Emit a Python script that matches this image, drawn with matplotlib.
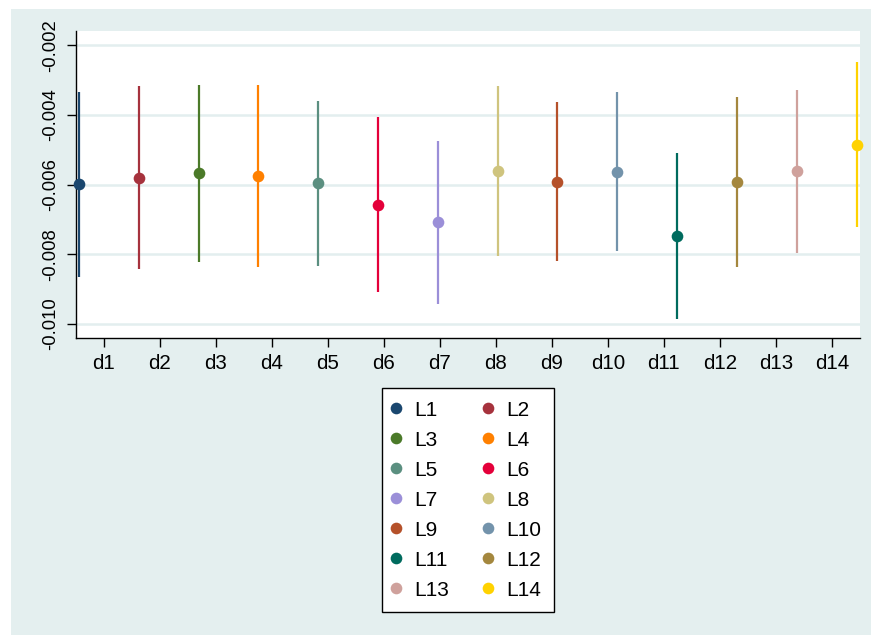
import numpy as np
import matplotlib.pyplot as plt
from matplotlib.patches import Rectangle
from matplotlib.lines import Line2D

plt.rcParams['font.family'] = ['Liberation Sans', 'DejaVu Sans']

# coefficient estimates with 95% confidence bounds
labels = ['L1', 'L2', 'L3', 'L4', 'L5', 'L6', 'L7',
          'L8', 'L9', 'L10', 'L11', 'L12', 'L13', 'L14']
coef = [-0.00599, -0.00580, -0.00567, -0.00574, -0.00596, -0.00658, -0.00708,
        -0.00561, -0.00591, -0.00563, -0.00746, -0.00592, -0.00561, -0.00486]
ci_hi = [-0.00335, -0.00318, -0.00313, -0.00313, -0.00360, -0.00407, -0.00474,
         -0.00317, -0.00364, -0.00335, -0.00508, -0.00348, -0.00328, -0.00249]
ci_lo = [-0.00864, -0.00841, -0.00823, -0.00837, -0.00833, -0.00909, -0.00943,
         -0.00805, -0.00819, -0.00791, -0.00985, -0.00837, -0.00795, -0.00723]
xcats = ['d%d' % i for i in range(1, 15)]
colors = ['#1A476F', '#A6323D', '#4B7A29', '#FF8000', '#5B8F80', '#E4003A', '#9B8FD8',
          '#CFC47E', '#B5512A', '#7393AB', '#006B5E', '#A4873E', '#CFA19C', '#FFD200']

bg = '#E4EFEF'

fig = plt.figure(figsize=(8.71, 6.37), dpi=100)
fig.patches.append(Rectangle((11 / 871, 1 - 635 / 637), 860 / 871, 626 / 637,
                             transform=fig.transFigure, facecolor=bg,
                             edgecolor='none', zorder=-5))

ax = fig.add_axes([75.5 / 871, 1 - 337.7 / 637, 784.5 / 871, 306.7 / 637])
ax.set_facecolor('white')

# series are spread evenly across the category axis
n = len(labels)
step = 1.0674
xs = 7.5 + (np.arange(n) - (n - 1) / 2) * step

for i in range(n):
    ax.plot([xs[i], xs[i]], [ci_lo[i], ci_hi[i]], color=colors[i], lw=1.6,
            solid_capstyle='butt', zorder=3, clip_on=False)
    ax.plot(xs[i], coef[i], 'o', color=colors[i], ms=8.4, mew=0, zorder=4, clip_on=False)

ax.set_xlim(0.5, 14.5)
ax.set_ylim(-0.010393, -0.00159)
ax.set_xticks(range(1, 15))
ax.set_xticklabels(xcats)
yt = [-0.010, -0.008, -0.006, -0.004, -0.002]
ax.set_yticks(yt)
ax.set_yticklabels(['%.3f' % v for v in yt])
for t in ax.get_yticklabels():
    t.set_rotation(90)
    t.set_va('center')

ax.yaxis.grid(True, color='#E3EEEF', lw=1.8)
ax.set_axisbelow(True)
for s in ['top', 'right']:
    ax.spines[s].set_visible(False)
for s in ['left', 'bottom']:
    ax.spines[s].set_color('#000000')
    ax.spines[s].set_linewidth(1.0)
ax.tick_params(axis='both', length=6.5, width=1.0, color='#000000')
ax.tick_params(axis='x', labelsize=14.8, pad=5)
ax.tick_params(axis='y', labelsize=13.3, pad=5)

# legend laid out row by row: L1 L2 / L3 L4 / ...
handles = [Line2D([], [], ls='none', marker='o', ms=8.4, mew=0, color=c) for c in colors]
order = list(range(0, n, 2)) + list(range(1, n, 2))
leg = fig.legend([handles[k] for k in order], [labels[k] for k in order],
                 ncol=2, loc='upper left',
                 bbox_to_anchor=(382 / 871, 1 - 388 / 637), borderaxespad=0,
                 fontsize=15, frameon=True, fancybox=False,
                 edgecolor='#000000', facecolor='white', framealpha=1,
                 handlelength=0.15, handletextpad=0.8, columnspacing=1.8,
                 labelspacing=0.53, borderpad=0.6)
leg.get_frame().set_linewidth(1.0)

fig.savefig('out.png', dpi=100)
